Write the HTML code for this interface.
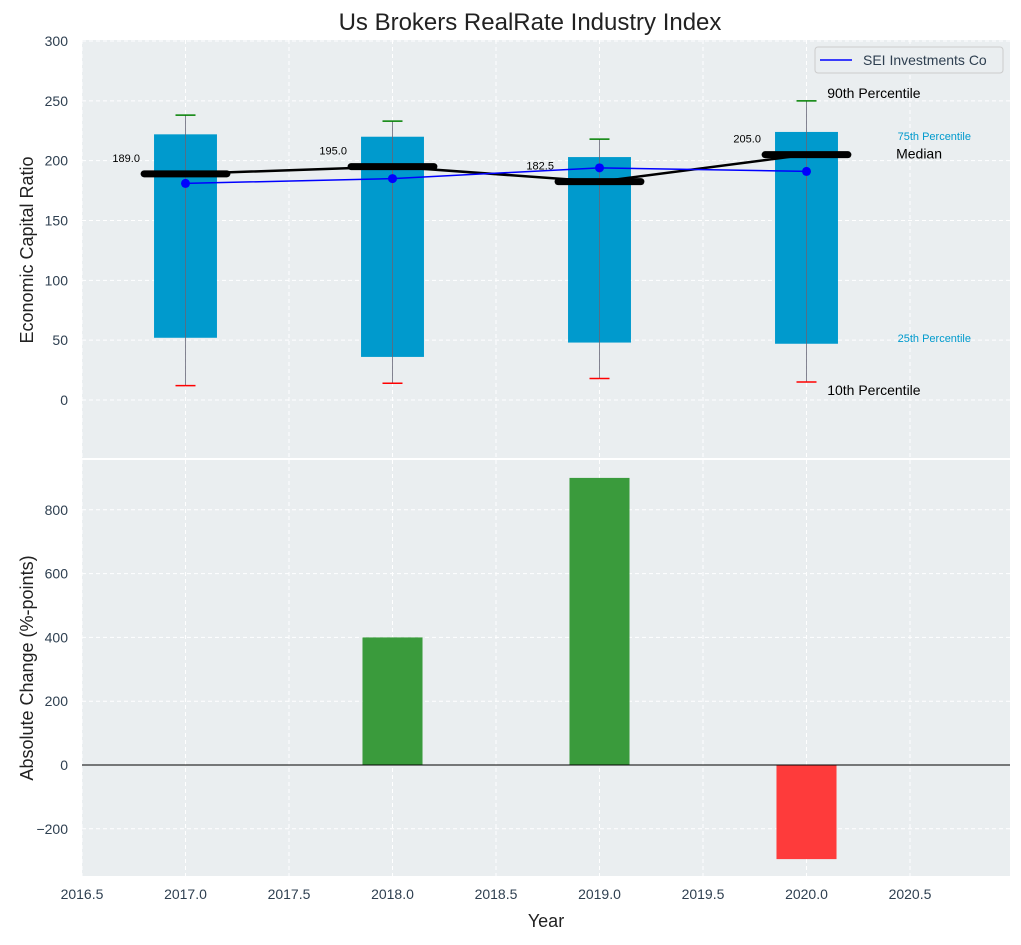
<!DOCTYPE html>
<html><head><meta charset="utf-8"><style>
body{margin:0;background:#fff;font-family:"Liberation Sans",sans-serif}
svg text{font-family:"Liberation Sans",sans-serif}
</style></head><body>
<svg id="c" width="1021" height="940"></svg>
<script>
const years=[2017,2018,2019,2020];
const p10=[12,14,18,15];
const p25=[52,36,48,47];
const p75=[222,220,203,224];
const p90=[238,233,218,250];
const medians=[189,195,182.5,205];
const company=[181,185,194,191];
const changeYears=[2018,2019,2020];
const changes=[400,900,-295];
const xTicks=[2016.5,2017,2017.5,2018,2018.5,2019,2019.5,2020,2020.5];
const topTicks=[0,50,100,150,200,250,300];
const botTicks=[-200,0,200,400,600,800];

const L=82,R=1010,T1=40,B1=458,T2=460,B2=876;
const X=v=>L+(v-2016.5)*207;
const Y1=v=>400-v*1.1967;
const Y2=v=>765-v*0.319;
const svg=document.getElementById('c');
const NS='http://www.w3.org/2000/svg';
function el(t,a,txt){const e=document.createElementNS(NS,t);for(const k in a)e.setAttribute(k,a[k]);if(txt!==undefined)e.textContent=txt;svg.appendChild(e);return e;}

let e;
e=el('rect',{x:L,y:T1,width:R-L,height:B1-T1,fill:'#eaeef0'});

e=el('rect',{x:L,y:T2,width:R-L,height:B2-T2,fill:'#eaeef0'});

xTicks.forEach(v=>{
  el('line',{x1:X(v),x2:X(v),y1:T1,y2:B1,stroke:'#fff','stroke-dasharray':'4,3','stroke-width':1});
  el('line',{x1:X(v),x2:X(v),y1:T2,y2:B2,stroke:'#fff','stroke-dasharray':'4,3','stroke-width':1});
  e=el('text',{x:X(v),y:899,'text-anchor':'middle','font-size':14,fill:'#2e3f50'},v.toFixed(1));
  
});
topTicks.forEach(v=>{
  el('line',{x1:L,x2:R,y1:Y1(v),y2:Y1(v),stroke:'#fff','stroke-dasharray':'4,3'});
  e=el('text',{x:68,y:Y1(v)+5,'text-anchor':'end','font-size':14,fill:'#2e3f50'},v);
  
});
botTicks.forEach(v=>{
  el('line',{x1:L,x2:R,y1:Y2(v),y2:Y2(v),stroke:'#fff','stroke-dasharray':'4,3'});
  e=el('text',{x:68,y:Y2(v)+5,'text-anchor':'end','font-size':14,fill:'#2e3f50'},v<0?'\u2212'+(-v):v);
  
});
years.forEach((yr,i)=>{
  const x=X(yr);
  e=el('rect',{x:X(yr-0.152),y:Y1(p75[i]),width:X(yr+0.152)-X(yr-0.152),height:Y1(p25[i])-Y1(p75[i]),fill:'#009acd'});
  
  e=el('line',{x1:x,x2:x,y1:Y1(p90[i]),y2:Y1(p10[i]),stroke:'#667',opacity:0.8,'stroke-width':1});
  
  e=el('line',{x1:x-10,x2:x+10,y1:Y1(p90[i]),y2:Y1(p90[i]),stroke:'green','stroke-width':1.5});
  
  e=el('line',{x1:x-10,x2:x+10,y1:Y1(p10[i]),y2:Y1(p10[i]),stroke:'red','stroke-width':1.5});
  
});
e=el('polyline',{points:years.map((y,i)=>X(y)+','+Y1(medians[i])).join(' '),fill:'none',stroke:'#000','stroke-width':2.5});

years.forEach((yr,i)=>{
  e=el('line',{x1:X(yr-0.2),x2:X(yr+0.2),y1:Y1(medians[i]),y2:Y1(medians[i]),stroke:'#000','stroke-width':7,'stroke-linecap':'round'});
  
  e=el('text',{x:X(yr-0.22),y:Y1(medians[i])-12,'text-anchor':'end','font-size':11,fill:'#000'},medians[i].toFixed(1));
  
});
e=el('polyline',{points:years.map((y,i)=>X(y)+','+Y1(company[i])).join(' '),fill:'none',stroke:'#00f','stroke-width':1.5});

years.forEach((yr,i)=>{
  e=el('circle',{cx:X(yr),cy:Y1(company[i]),r:4.5,fill:'#00f'});
  
});
const lx=X(2020.1);
e=el('text',{x:lx,y:Y1(p90[3])-3,'font-size':14,fill:'#000'},'90th Percentile');

e=el('text',{x:lx,y:Y1(p10[3])+13,'font-size':14,fill:'#000'},'10th Percentile');

e=el('text',{x:971,y:Y1(p75[3])+8,'text-anchor':'end','font-size':11,fill:'#009acd'},'75th Percentile');

e=el('text',{x:971,y:Y1(p25[3])-2,'text-anchor':'end','font-size':11,fill:'#009acd'},'25th Percentile');

e=el('text',{x:942,y:Y1(medians[3])+4,'text-anchor':'end','font-size':14,fill:'#000'},'Median');

e=el('rect',{x:815,y:47,width:188,height:26,rx:3,fill:'#eaeef0',stroke:'#ccc'});

el('line',{x1:820,x2:852,y1:60,y2:60,stroke:'#00f','stroke-width':1.5});
e=el('text',{x:863,y:65,'font-size':14,fill:'#2e3f50'},'SEI Investments Co');

changeYears.forEach((yr,i)=>{
  const v=changes[i];
  e=el('rect',{x:X(yr-0.145),y:Math.min(Y2(0),Y2(v)),width:X(yr+0.145)-X(yr-0.145),height:Math.abs(Y2(v)-Y2(0)),fill:v>=0?'#3a9b3c':'#fe3b3b'});
  
});
e=el('line',{x1:L,x2:R,y1:Y2(0),y2:Y2(0),stroke:'#000','stroke-width':1});

e=el('text',{x:530,y:30,'text-anchor':'middle','font-size':24,fill:'#222'},'Us Brokers RealRate Industry Index');

e=el('text',{x:546,y:927,'text-anchor':'middle','font-size':18,fill:'#222'},'Year');

e=el('text',{x:0,y:0,transform:'translate(33,250) rotate(-90)','text-anchor':'middle','font-size':18,fill:'#222'},'Economic Capital Ratio');

e=el('text',{x:0,y:0,transform:'translate(33,668) rotate(-90)','text-anchor':'middle','font-size':18,fill:'#222'},'Absolute Change (%-points)');

</script>
</body></html>
